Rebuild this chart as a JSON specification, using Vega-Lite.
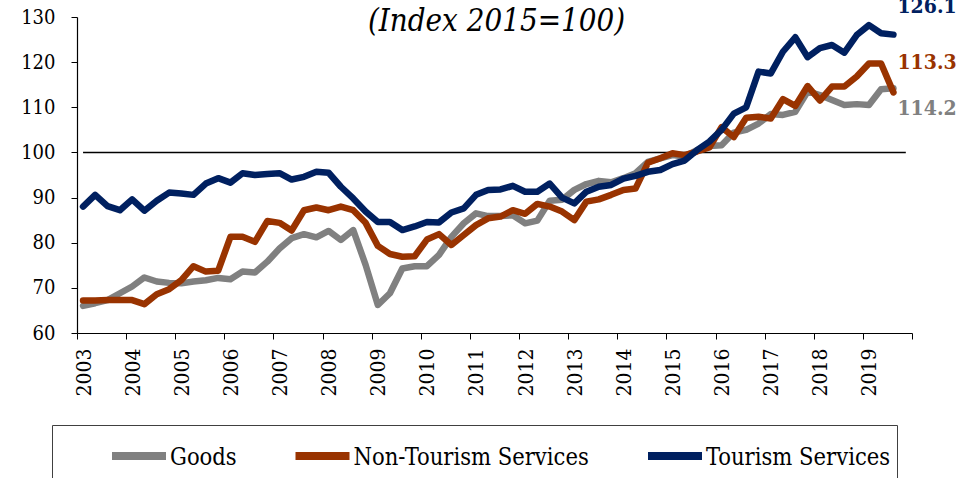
{
  "$schema": "https://vega.github.io/schema/vega-lite/v6.json",
  "width": 835,
  "height": 316,
  "autosize": {"type": "none"},
  "padding": {"left": 77, "top": 17, "right": 66, "bottom": 145},
  "background": "white",
  "title": {
    "text": "(Index 2015=100)",
    "font": "DejaVu Serif Condensed",
    "fontStyle": "italic",
    "fontWeight": "normal",
    "fontSize": 31,
    "color": "black",
    "anchor": "middle",
    "frame": "group",
    "baseline": "alphabetic",
    "offset": -66,
    "dx": 2
  },
  "datasets": {
    "cpi": [
      {"date": "2003-02-15", "Goods": 66.0, "Non-Tourism Services": 67.2, "Tourism Services": 88.0},
      {"date": "2003-05-16", "Goods": 66.6, "Non-Tourism Services": 67.2, "Tourism Services": 90.6},
      {"date": "2003-08-16", "Goods": 67.3, "Non-Tourism Services": 67.3, "Tourism Services": 88.1},
      {"date": "2003-11-16", "Goods": 68.8, "Non-Tourism Services": 67.3, "Tourism Services": 87.2},
      {"date": "2004-02-15", "Goods": 70.3, "Non-Tourism Services": 67.3, "Tourism Services": 89.6},
      {"date": "2004-05-16", "Goods": 72.3, "Non-Tourism Services": 66.4, "Tourism Services": 87.1},
      {"date": "2004-08-16", "Goods": 71.4, "Non-Tourism Services": 68.6, "Tourism Services": 89.3},
      {"date": "2004-11-16", "Goods": 71.1, "Non-Tourism Services": 69.7, "Tourism Services": 91.1},
      {"date": "2005-02-15", "Goods": 71.0, "Non-Tourism Services": 71.7, "Tourism Services": 90.9},
      {"date": "2005-05-16", "Goods": 71.4, "Non-Tourism Services": 74.8, "Tourism Services": 90.6},
      {"date": "2005-08-16", "Goods": 71.7, "Non-Tourism Services": 73.6, "Tourism Services": 93.1},
      {"date": "2005-11-16", "Goods": 72.2, "Non-Tourism Services": 73.8, "Tourism Services": 94.3},
      {"date": "2006-02-15", "Goods": 71.9, "Non-Tourism Services": 81.3, "Tourism Services": 93.3},
      {"date": "2006-05-16", "Goods": 73.6, "Non-Tourism Services": 81.3, "Tourism Services": 95.4},
      {"date": "2006-08-16", "Goods": 73.4, "Non-Tourism Services": 80.2, "Tourism Services": 95.0},
      {"date": "2006-11-16", "Goods": 75.8, "Non-Tourism Services": 84.8, "Tourism Services": 95.2},
      {"date": "2007-02-15", "Goods": 78.7, "Non-Tourism Services": 84.4, "Tourism Services": 95.4},
      {"date": "2007-05-16", "Goods": 81.0, "Non-Tourism Services": 82.7, "Tourism Services": 94.0},
      {"date": "2007-08-16", "Goods": 81.9, "Non-Tourism Services": 87.2, "Tourism Services": 94.6},
      {"date": "2007-11-16", "Goods": 81.2, "Non-Tourism Services": 87.8, "Tourism Services": 95.7},
      {"date": "2008-02-15", "Goods": 82.6, "Non-Tourism Services": 87.2, "Tourism Services": 95.5},
      {"date": "2008-05-16", "Goods": 80.6, "Non-Tourism Services": 88.0, "Tourism Services": 92.4},
      {"date": "2008-08-16", "Goods": 82.8, "Non-Tourism Services": 87.2, "Tourism Services": 89.8},
      {"date": "2008-11-16", "Goods": 75.1, "Non-Tourism Services": 84.4, "Tourism Services": 86.9},
      {"date": "2009-02-15", "Goods": 66.2, "Non-Tourism Services": 79.3, "Tourism Services": 84.6},
      {"date": "2009-05-16", "Goods": 68.8, "Non-Tourism Services": 77.5, "Tourism Services": 84.6},
      {"date": "2009-08-16", "Goods": 74.3, "Non-Tourism Services": 76.9, "Tourism Services": 82.8},
      {"date": "2009-11-16", "Goods": 74.8, "Non-Tourism Services": 77.0, "Tourism Services": 83.6},
      {"date": "2010-02-15", "Goods": 74.8, "Non-Tourism Services": 80.7, "Tourism Services": 84.6},
      {"date": "2010-05-16", "Goods": 77.3, "Non-Tourism Services": 81.9, "Tourism Services": 84.5},
      {"date": "2010-08-16", "Goods": 81.3, "Non-Tourism Services": 79.5, "Tourism Services": 86.7},
      {"date": "2010-11-16", "Goods": 84.3, "Non-Tourism Services": 81.7, "Tourism Services": 87.6},
      {"date": "2011-02-15", "Goods": 86.5, "Non-Tourism Services": 83.9, "Tourism Services": 90.6},
      {"date": "2011-05-16", "Goods": 85.9, "Non-Tourism Services": 85.4, "Tourism Services": 91.7},
      {"date": "2011-08-16", "Goods": 85.9, "Non-Tourism Services": 85.8, "Tourism Services": 91.8},
      {"date": "2011-11-16", "Goods": 86.1, "Non-Tourism Services": 87.2, "Tourism Services": 92.6},
      {"date": "2012-02-15", "Goods": 84.3, "Non-Tourism Services": 86.4, "Tourism Services": 91.3},
      {"date": "2012-05-16", "Goods": 84.9, "Non-Tourism Services": 88.6, "Tourism Services": 91.3},
      {"date": "2012-08-16", "Goods": 89.3, "Non-Tourism Services": 88.0, "Tourism Services": 93.1},
      {"date": "2012-11-16", "Goods": 89.5, "Non-Tourism Services": 86.9, "Tourism Services": 90.0},
      {"date": "2013-02-15", "Goods": 91.7, "Non-Tourism Services": 85.0, "Tourism Services": 88.7},
      {"date": "2013-05-16", "Goods": 93.0, "Non-Tourism Services": 89.1, "Tourism Services": 91.3},
      {"date": "2013-08-16", "Goods": 93.7, "Non-Tourism Services": 89.6, "Tourism Services": 92.4},
      {"date": "2013-11-16", "Goods": 93.4, "Non-Tourism Services": 90.6, "Tourism Services": 92.8},
      {"date": "2014-02-15", "Goods": 94.3, "Non-Tourism Services": 91.7, "Tourism Services": 94.2},
      {"date": "2014-05-16", "Goods": 95.4, "Non-Tourism Services": 92.0, "Tourism Services": 94.8},
      {"date": "2014-08-16", "Goods": 97.9, "Non-Tourism Services": 97.7, "Tourism Services": 95.7},
      {"date": "2014-11-16", "Goods": 98.7, "Non-Tourism Services": 98.7, "Tourism Services": 96.1},
      {"date": "2015-02-15", "Goods": 99.4, "Non-Tourism Services": 99.8, "Tourism Services": 97.4},
      {"date": "2015-05-16", "Goods": 99.1, "Non-Tourism Services": 99.4, "Tourism Services": 98.2},
      {"date": "2015-08-16", "Goods": 100.5, "Non-Tourism Services": 100.2, "Tourism Services": 100.5},
      {"date": "2015-11-16", "Goods": 101.4, "Non-Tourism Services": 101.1, "Tourism Services": 102.4},
      {"date": "2016-02-15", "Goods": 101.6, "Non-Tourism Services": 105.6, "Tourism Services": 105.0},
      {"date": "2016-05-16", "Goods": 104.4, "Non-Tourism Services": 103.4, "Tourism Services": 108.6},
      {"date": "2016-08-16", "Goods": 105.0, "Non-Tourism Services": 107.7, "Tourism Services": 110.0},
      {"date": "2016-11-16", "Goods": 106.4, "Non-Tourism Services": 107.9, "Tourism Services": 117.9},
      {"date": "2017-02-15", "Goods": 108.5, "Non-Tourism Services": 107.5, "Tourism Services": 117.5},
      {"date": "2017-05-16", "Goods": 108.3, "Non-Tourism Services": 111.8, "Tourism Services": 122.3},
      {"date": "2017-08-16", "Goods": 109.0, "Non-Tourism Services": 110.3, "Tourism Services": 125.5},
      {"date": "2017-11-16", "Goods": 113.5, "Non-Tourism Services": 114.7, "Tourism Services": 121.1},
      {"date": "2018-02-15", "Goods": 112.7, "Non-Tourism Services": 111.5, "Tourism Services": 123.1},
      {"date": "2018-05-16", "Goods": 111.6, "Non-Tourism Services": 114.6, "Tourism Services": 123.8},
      {"date": "2018-08-16", "Goods": 110.5, "Non-Tourism Services": 114.6, "Tourism Services": 122.1},
      {"date": "2018-11-16", "Goods": 110.7, "Non-Tourism Services": 116.8, "Tourism Services": 126.0},
      {"date": "2019-02-15", "Goods": 110.5, "Non-Tourism Services": 119.7, "Tourism Services": 128.2},
      {"date": "2019-05-16", "Goods": 114.0, "Non-Tourism Services": 119.7, "Tourism Services": 126.4},
      {"date": "2019-08-16", "Goods": 114.2, "Non-Tourism Services": 113.3, "Tourism Services": 126.1}
    ],
    "reference": [
      {"start": "2003-02-15", "end": "2019-11-16", "level": 100}
    ]
  },
  "layer": [
    {
      "data": {"name": "reference"},
      "mark": {"type": "rule", "color": "black", "strokeWidth": 1.5},
      "encoding": {
        "x": {"field": "start", "type": "temporal", "scale": {"domain": [{"year": 2003, "month": 1, "date": 1}, {"year": 2020, "month": 1, "date": 1}]}},
        "x2": {"field": "end"},
        "y": {"field": "level", "type": "quantitative", "scale": {"domain": [60, 130], "zero": false, "nice": false}}
      }
    },
    {
      "data": {"name": "cpi", "format": {"parse": {"date": "date"}}},
      "transform": [
        {"fold": ["Goods", "Non-Tourism Services", "Tourism Services"], "as": ["series", "value"]}
      ],
      "layer": [
        {
          "mark": {"type": "line", "strokeWidth": 6.5, "strokeJoin": "round", "strokeCap": "round"},
          "encoding": {
            "x": {"field": "date", "type": "temporal"},
            "y": {"field": "value", "type": "quantitative"},
            "color": {
              "field": "series",
              "type": "nominal",
              "scale": {"domain": ["Goods", "Non-Tourism Services", "Tourism Services"], "range": ["#808080", "#993300", "#002060"]},
              "legend": {
                "title": "\u00a0",
                "titleOrient": "left",
                "titleFontSize": 10,
                "titlePadding": 47,
                "orient": "none",
                "direction": "horizontal",
                "legendX": -25,
                "legendY": 408,
                "padding": 6,
                "strokeColor": "#404040",
                "symbolType": "M-0.9,-0.3H0.9",
                "symbolSize": 3600,
                "symbolStrokeWidth": 8,
                "labelFont": "DejaVu Serif Condensed",
                "labelFontSize": 23.5,
                "labelColor": "black",
                "labelBaseline": "alphabetic",
                "labelLimit": 400,
                "labelOffset": -3,
                "labelExpr": "datum.label == 'Tourism Services' ? datum.label + '       ' : datum.label",
                "columnPadding": 42.5
              }
            }
          }
        },
        {
          "transform": [{"filter": "datum.series == 'Tourism Services' && year(datum.date) == 2019 && month(datum.date) == 7"}],
          "mark": {"type": "text", "align": "left", "baseline": "middle", "dx": 4, "dy": -27.5, "font": "DejaVu Serif Condensed", "fontWeight": "bold", "fontSize": 21, "color": "#002060"},
          "encoding": {
            "x": {"field": "date", "type": "temporal"},
            "y": {"field": "value", "type": "quantitative"},
            "text": {"field": "value", "type": "quantitative", "format": ".1f"}
          }
        },
        {
          "transform": [{"filter": "datum.series == 'Non-Tourism Services' && year(datum.date) == 2019 && month(datum.date) == 7"}],
          "mark": {"type": "text", "align": "left", "baseline": "middle", "dx": 4, "dy": -29.5, "font": "DejaVu Serif Condensed", "fontWeight": "bold", "fontSize": 21, "color": "#993300"},
          "encoding": {
            "x": {"field": "date", "type": "temporal"},
            "y": {"field": "value", "type": "quantitative"},
            "text": {"field": "value", "type": "quantitative", "format": ".1f"}
          }
        },
        {
          "transform": [{"filter": "datum.series == 'Goods' && year(datum.date) == 2019 && month(datum.date) == 7"}],
          "mark": {"type": "text", "align": "left", "baseline": "middle", "dx": 4, "dy": 21, "font": "DejaVu Serif Condensed", "fontWeight": "bold", "fontSize": 21, "color": "#808080"},
          "encoding": {
            "x": {"field": "date", "type": "temporal"},
            "y": {"field": "value", "type": "quantitative"},
            "text": {"field": "value", "type": "quantitative", "format": ".1f"}
          }
        }
      ]
    }
  ],
  "encoding": {},
  "resolve": {"scale": {"x": "shared", "y": "shared"}},
  "config": {
    "view": {"stroke": null},
    "font": "DejaVu Serif Condensed",
    "axisX": {
      "title": null,
      "grid": false,
      "values": [
        {"year": 2003, "month": 1, "date": 1}, {"year": 2004, "month": 1, "date": 1}, {"year": 2005, "month": 1, "date": 1},
        {"year": 2006, "month": 1, "date": 1}, {"year": 2007, "month": 1, "date": 1}, {"year": 2008, "month": 1, "date": 1},
        {"year": 2009, "month": 1, "date": 1}, {"year": 2010, "month": 1, "date": 1}, {"year": 2011, "month": 1, "date": 1},
        {"year": 2012, "month": 1, "date": 1}, {"year": 2013, "month": 1, "date": 1}, {"year": 2014, "month": 1, "date": 1},
        {"year": 2015, "month": 1, "date": 1}, {"year": 2016, "month": 1, "date": 1}, {"year": 2017, "month": 1, "date": 1},
        {"year": 2018, "month": 1, "date": 1}, {"year": 2019, "month": 1, "date": 1}, {"year": 2020, "month": 1, "date": 1}
      ],
      "labelExpr": "year(datum.value) >= 2020 ? '' : timeFormat(datum.value, '%Y')",
      "labelAngle": -90,
      "labelOffset": 7,
      "labelFont": "DejaVu Serif Condensed",
      "labelFontSize": 21,
      "labelColor": "black",
      "labelPadding": 9,
      "labelOverlap": false,
      "labelFlush": false,
      "tickSize": 6,
      "tickColor": "black",
      "domainColor": "black",
      "domainWidth": 1.2
    },
    "axisY": {
      "title": null,
      "grid": false,
      "values": [60, 70, 80, 90, 100, 110, 120, 130],
      "labelFont": "DejaVu Serif Condensed",
      "labelFontSize": 20,
      "labelColor": "black",
      "labelPadding": 16,
      "labelOverlap": false,
      "labelFlush": false,
      "tickSize": 6,
      "tickColor": "black",
      "domainColor": "black",
      "domainWidth": 1.2
    },
    "line": {"clip": false}
  }
}
